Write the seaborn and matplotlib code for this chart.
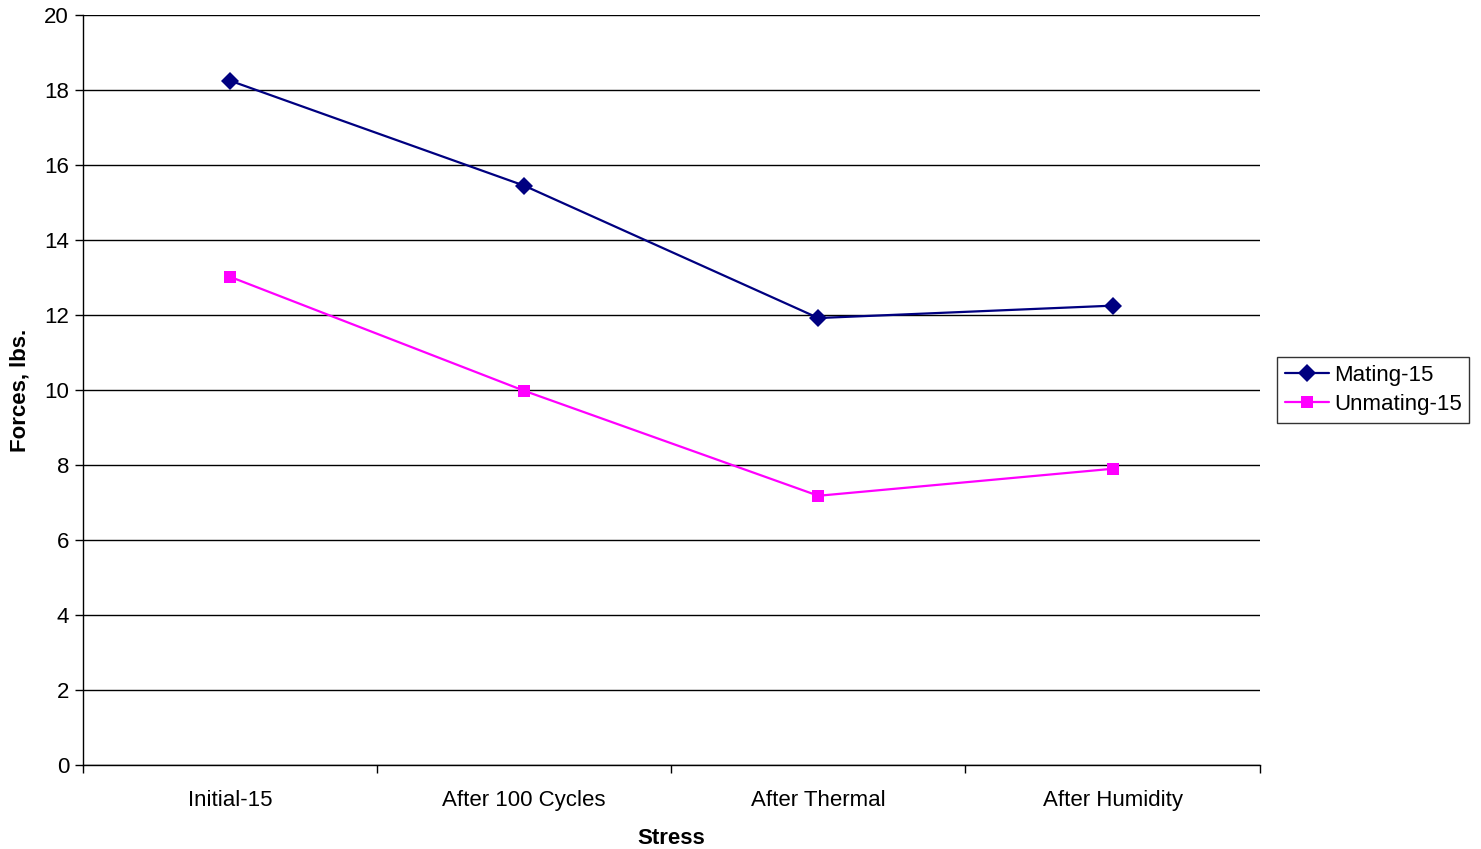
import matplotlib
matplotlib.use("Agg")
import matplotlib.pyplot as plt
import seaborn as sns
import pandas as pd
from matplotlib.ticker import FixedLocator, NullFormatter

categories = ["Initial-15", "After 100 Cycles", "After Thermal", "After Humidity"]
mating = [18.25, 15.45, 11.92, 12.25]
unmating = [13.02, 9.98, 7.18, 7.90]
y_ticks = [0, 2, 4, 6, 8, 10, 12, 14, 16, 18, 20]

sns.set_style("white", {"text.color": "black", "axes.labelcolor": "black",
                        "xtick.color": "black", "ytick.color": "black"})
plt.rcParams["font.family"] = ["Liberation Sans", "DejaVu Sans"]

df = pd.DataFrame({
    "pos": list(range(len(categories))) * 2,
    "value": mating + unmating,
    "series": ["Mating-15"] * len(categories) + ["Unmating-15"] * len(categories),
})

fig = plt.figure(figsize=(14.81, 8.49), dpi=100)
ax = fig.add_axes([0.056, 0.0989, 0.7945, 0.8834])

sns.lineplot(data=df, x="pos", y="value", hue="series", style="series",
             palette={"Mating-15": "#000080", "Unmating-15": "#FF00FF"},
             markers={"Mating-15": "D", "Unmating-15": "s"},
             dashes=False, markersize=9, linewidth=1.6,
             markeredgewidth=0, ax=ax)

ax.set_xlim(-0.5, len(categories) - 0.5)
ax.set_ylim(0, 20)
ax.set_yticks(y_ticks)
ax.set_xticks(range(len(categories)))
ax.set_xticklabels(categories)
ax.xaxis.set_minor_locator(FixedLocator([i - 0.5 for i in range(len(categories) + 1)]))
ax.xaxis.set_minor_formatter(NullFormatter())
ax.tick_params(axis="x", which="major", bottom=True, length=0, labelsize=16,
               labelcolor="black", pad=18)
ax.tick_params(axis="x", which="minor", bottom=True, length=6, width=1,
               color="black", direction="out")
ax.tick_params(axis="y", left=True, length=6, width=1, color="black",
               direction="out", labelsize=16, labelcolor="black", pad=4)

ax.grid(axis="y", color="black", linewidth=1)
ax.set_axisbelow(True)
for side in ["top", "right"]:
    ax.spines[side].set_visible(False)
for side in ["left", "bottom"]:
    ax.spines[side].set_color("black")
    ax.spines[side].set_linewidth(1)

ax.set_xlabel("Stress", fontsize=16, fontweight="bold", color="black", labelpad=12)
ax.set_ylabel("Forces, lbs.", fontsize=16, fontweight="bold", color="black", labelpad=10)

leg = ax.legend(loc="center left", bbox_to_anchor=(1.015, 0.5), fontsize=16,
                frameon=True, fancybox=False, edgecolor="black",
                handlelength=2.0, borderpad=0.35, labelspacing=0.35,
                handletextpad=0.2, borderaxespad=0)
leg.get_frame().set_linewidth(1)
for t in leg.get_texts():
    t.set_color("black")

fig.savefig("out.png", dpi=100, facecolor="white")
